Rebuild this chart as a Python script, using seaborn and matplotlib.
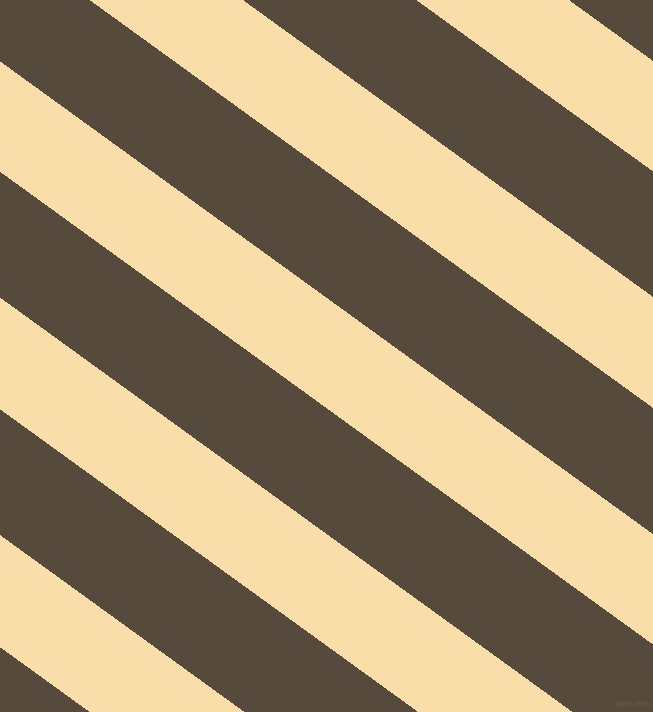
import numpy as np
import pandas as pd
import matplotlib
matplotlib.use("Agg")
import matplotlib.pyplot as plt
import seaborn as sns

# Stripe boundaries: intercept (in pixels at the left edge) of each band's
# upper and lower edge, and the band colour category
band_top = [-480.0, -411.0, -300.5, -175.0, -64.0, 62.2, 172.6, 298.4, 410.1, 535.9, 648.0]
band_bottom = [-411.0, -300.5, -175.0, -64.0, 62.2, 172.6, 298.4, 410.1, 535.9, 648.0, 780.0]
band_kind = ["dark", "cream", "dark", "cream", "dark", "cream", "dark", "cream", "dark", "cream", "dark"]
slope = 0.724  # vertical drop per horizontal pixel

palette = {"dark": "#554a3c", "cream": "#f9dea9"}

sns.set_theme(style="white")
plt.rcParams["font.family"] = ["DejaVu Sans"]

W, H = 653, 712
fig = plt.figure(figsize=(W / 100, H / 100), dpi=100)
ax = fig.add_axes([0, 0, 1, 1])
ax.set_xlim(0, W)
ax.set_ylim(H, 0)
ax.axis("off")

df = pd.DataFrame({"top": band_top, "bottom": band_bottom, "kind": band_kind})
x = np.array([0.0, W])
for _, row in df.iterrows():
    ax.fill_between(x, row["top"] + slope * x, row["bottom"] + slope * x,
                    color=palette[row["kind"]], linewidth=0, antialiased=False)

ax.text(650, 706, "pixlis.com", fontsize=5, color="#6b6153", ha="right", va="baseline")

fig.savefig("out.png", dpi=100)
